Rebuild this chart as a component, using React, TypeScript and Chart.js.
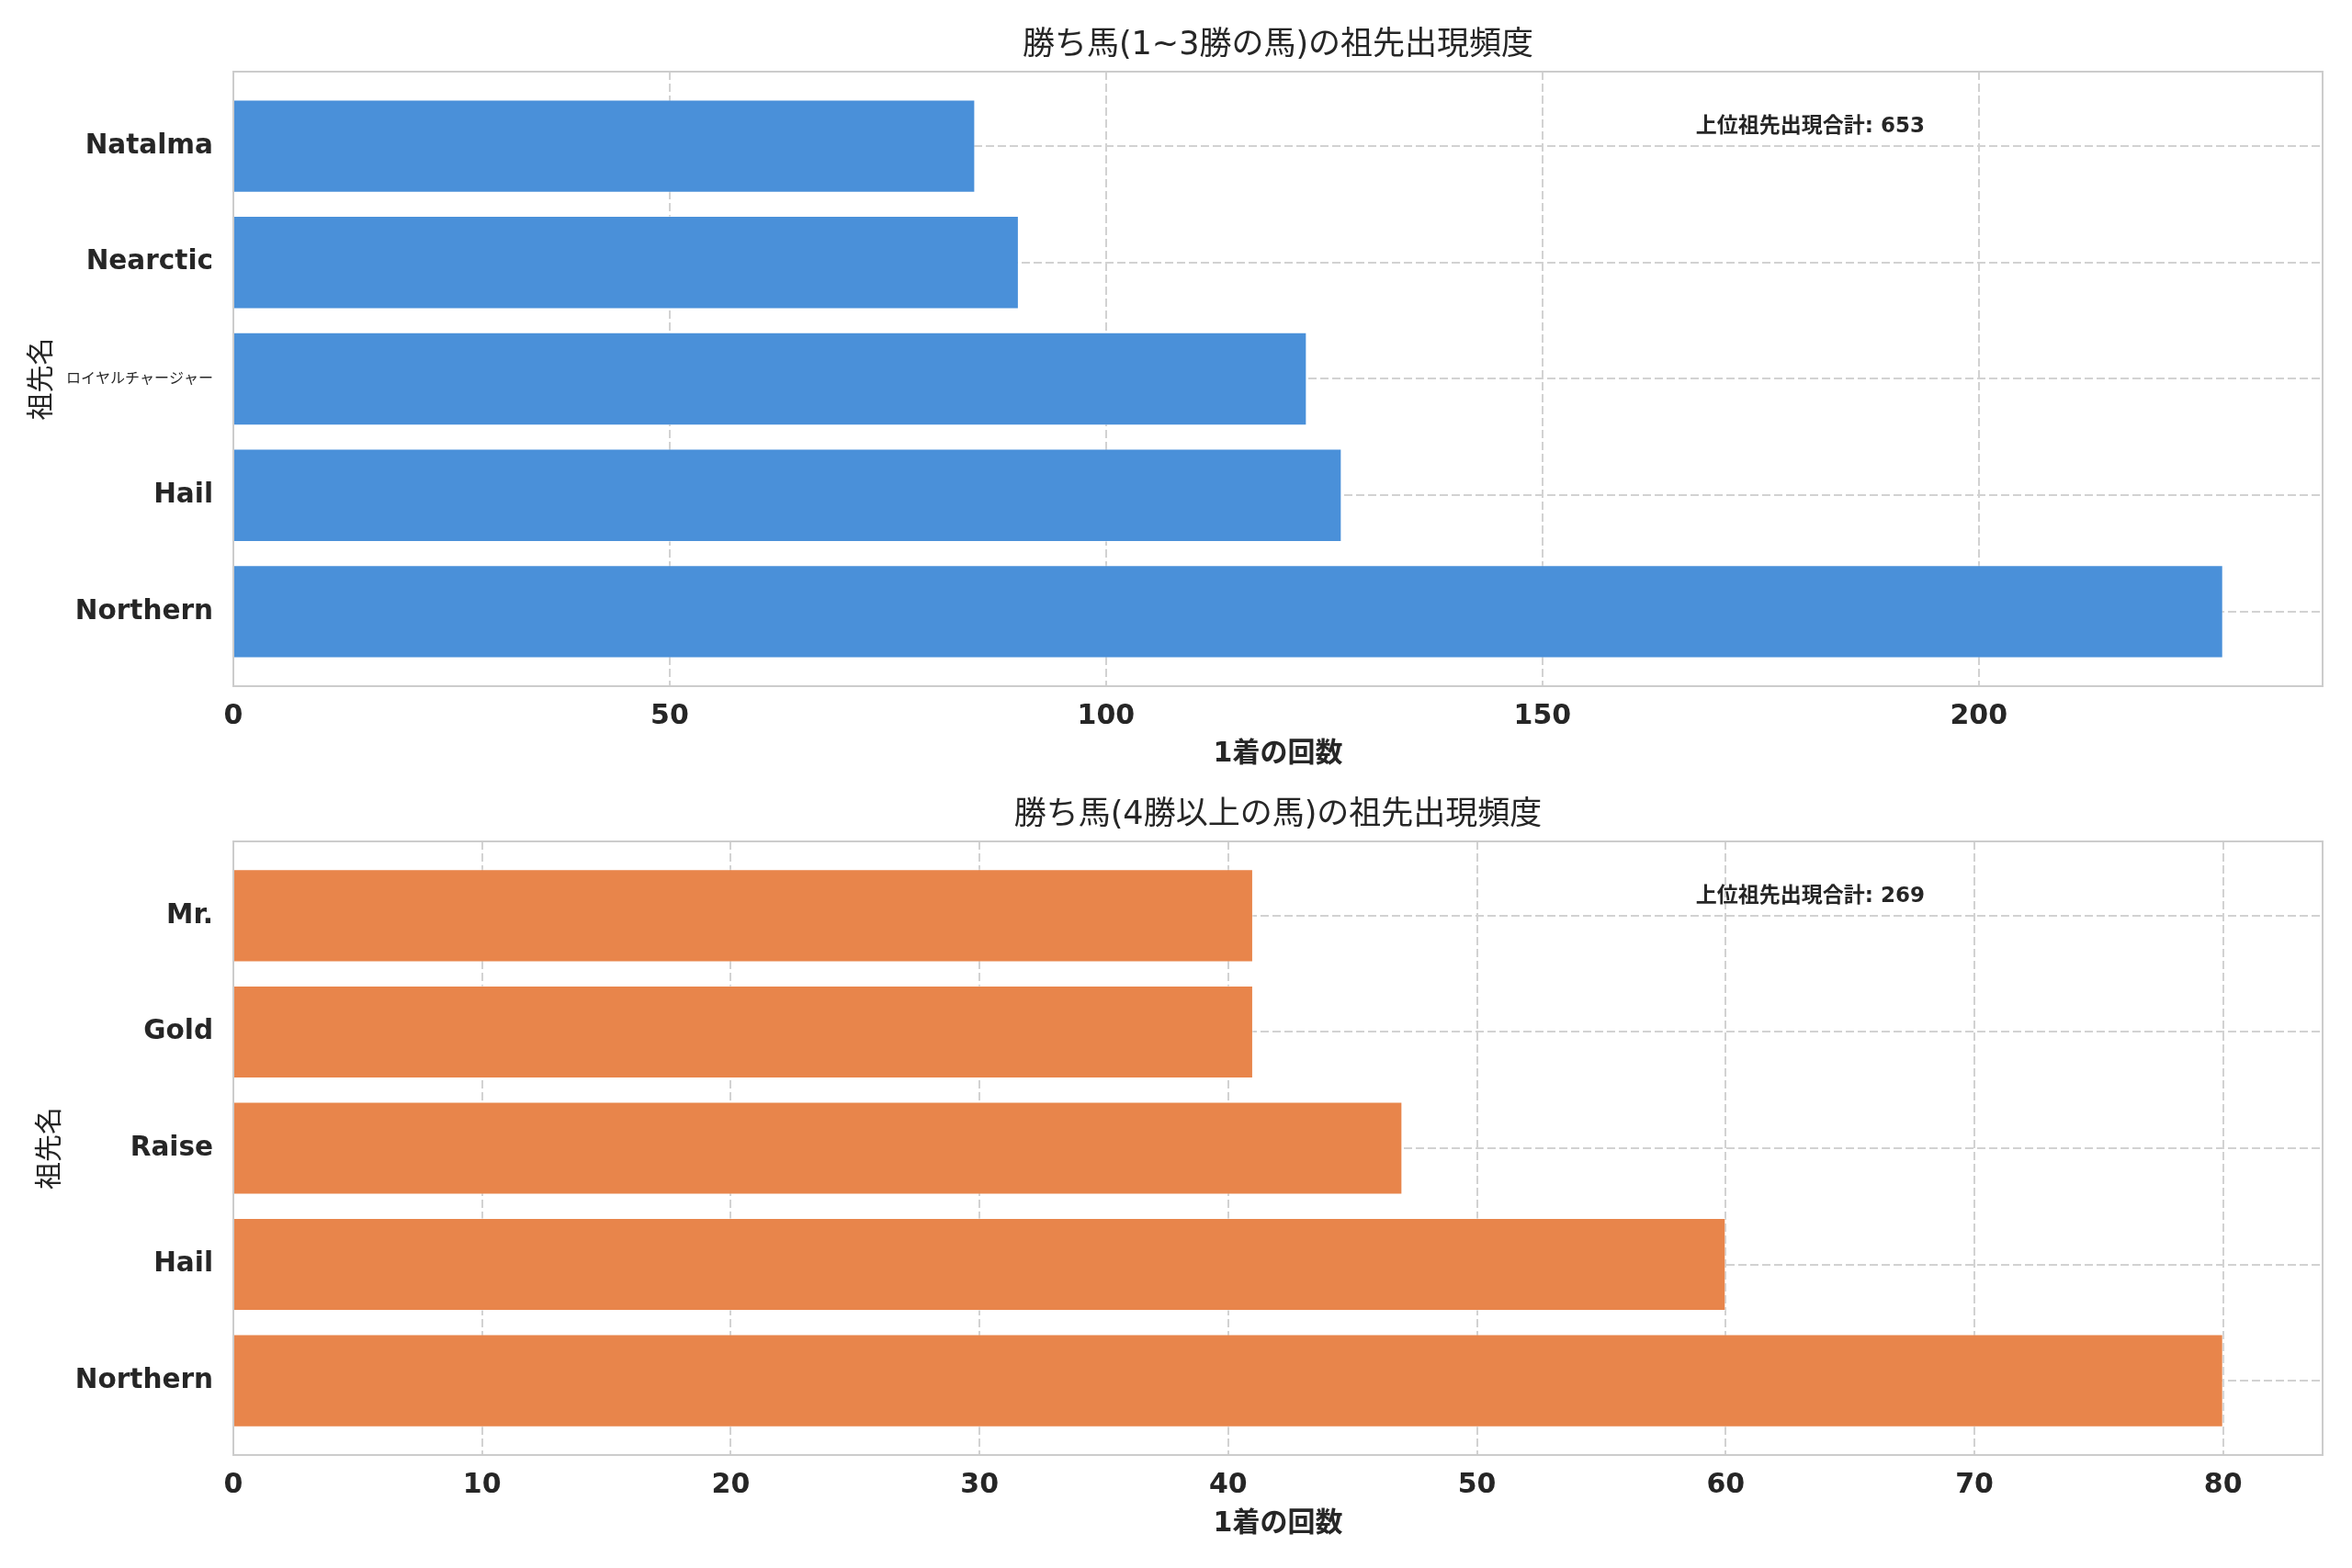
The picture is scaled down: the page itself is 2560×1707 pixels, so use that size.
import { useEffect, useRef } from "react"
import { Chart, registerables } from "chart.js"

Chart.register(...registerables)

const FONT = "'DejaVu Sans', 'Noto Sans CJK JP', sans-serif"
const TEXT = "#262626"
const GRID = "#d2d2d2"

// labels shared by both panels
const xLabel = "1着の回数"
const yLabel = "祖先名"
const totalLabel = "上位祖先出現合計"

// upper panel: 1~3 wins (bottom bar first, like barh)
const topTitle = "勝ち馬(1~3勝の馬)の祖先出現頻度"
const topNames = ["Northern", "Hail", "ロイヤルチャージャー", "Nearctic", "Natalma"]
const topCounts = [228, 127, 123, 90, 85]
const topStep = 50

// lower panel: 4+ wins
const bottomTitle = "勝ち馬(4勝以上の馬)の祖先出現頻度"
const bottomNames = ["Northern", "Hail", "Raise", "Gold", "Mr."]
const bottomCounts = [80, 60, 47, 41, 41]
const bottomStep = 10

type PanelProps = {
  title: string
  names: string[]
  counts: number[]
  step: number
  color: string
  top: number
  height: number
  titlePad: { top: number; bottom: number }
  xAxisHeight: number
  xTitlePad: number
  yTitlePad: number
}

function BarPanel(props: PanelProps) {
  const chartRef = useRef<HTMLCanvasElement>(null)

  useEffect(() => {
    if (!chartRef.current) return
    const { title, names, counts, step, color, titlePad, xAxisHeight, xTitlePad, yTitlePad } = props
    const total = counts.reduce((s, v) => s + v, 0)
    const n = names.length

    const frame = {
      id: "frame",
      afterDraw(chart: any) {
        const { ctx, chartArea: a } = chart
        ctx.save()
        ctx.strokeStyle = "#cccccc"
        ctx.lineWidth = 2
        ctx.strokeRect(a.left, a.top, a.right - a.left, a.bottom - a.top)
        // total note in axes coords (0.70, 0.913)
        ctx.fillStyle = TEXT
        ctx.font = `bold 23px ${FONT}`
        ctx.textAlign = "left"
        ctx.textBaseline = "middle"
        const x = a.left + 0.7 * (a.right - a.left)
        const y = a.bottom - 0.91 * (a.bottom - a.top)
        ctx.fillText(`${totalLabel}: ${total}`, x, y)
        ctx.restore()
      },
    }

    const chart = new Chart(chartRef.current, {
      type: "bar",
      data: {
        datasets: [
          {
            data: counts.map((v, i) => ({ x: v, y: i })),
            backgroundColor: color,
            borderColor: "rgba(255,255,255,0.5)",
            borderWidth: 1,
            barPercentage: 0.8,
            categoryPercentage: 1,
          },
        ],
      },
      options: {
        indexAxis: "y",
        animation: false,
        responsive: true,
        maintainAspectRatio: false,
        layout: { padding: { left: 0, right: 32, top: 0, bottom: 0 } },
        plugins: {
          legend: { display: false },
          tooltip: { enabled: false },
          title: {
            display: true,
            text: title,
            fullSize: false,
            color: TEXT,
            font: { family: FONT, size: 35, weight: "normal" },
            padding: titlePad,
          },
        },
        scales: {
          x: {
            type: "linear",
            min: 0,
            max: Math.max(...counts) * 1.05,
            afterFit: (s: any) => {
              s.height = xAxisHeight
            },
            ticks: {
              stepSize: step,
              includeBounds: false,
              color: TEXT,
              padding: 15,
              font: { family: FONT, size: 30, weight: "bold" },
            },
            grid: { color: GRID, lineWidth: 2, drawTicks: false },
            border: { display: false, dash: [9, 4] },
            title: {
              display: true,
              text: xLabel,
              color: TEXT,
              font: { family: FONT, size: 30, weight: "bold" },
              padding: { top: 0, bottom: xTitlePad },
            },
          },
          y: {
            type: "linear",
            offset: false,
            min: -0.64,
            max: n - 1 + 0.64,
            afterFit: (s: any) => {
              s.width = 254
            },
            afterBuildTicks: (s: any) => {
              s.ticks = names.map((_, i) => ({ value: i }))
            },
            ticks: {
              color: TEXT,
              padding: 22,
              callback: (v: any) => names[v] ?? "",
              font: (ctx: any) =>
                /[^\x00-\x7f]/.test(names[ctx.index] ?? "")
                  ? { family: FONT, size: 16, weight: "normal" }
                  : { family: FONT, size: 29.5, weight: "bold" },
            },
            grid: { color: GRID, lineWidth: 2, drawTicks: false, offset: false },
            border: { display: false, dash: [9, 4] },
            title: {
              display: true,
              text: yLabel,
              color: TEXT,
              font: { family: FONT, size: 30, weight: "normal" },
              padding: { top: yTitlePad, bottom: 0 },
            },
          },
        },
      },
      plugins: [frame],
    } as any)

    return () => {
      chart.destroy()
    }
  }, [])

  return (
    <div style={{ position: "absolute", left: 0, top: props.top, width: 2560, height: props.height }}>
      <canvas ref={chartRef}></canvas>
    </div>
  )
}

export default function App() {
  return (
    <div style={{ position: "absolute", left: 0, top: 0, width: 2560, height: 1707, background: "#fff" }}>
      <BarPanel
        title={topTitle}
        names={topNames}
        counts={topCounts}
        step={topStep}
        color="#4A90D9"
        top={0}
        height={853}
        titlePad={{ top: 29, bottom: 7 }}
        xAxisHeight={106}
        xTitlePad={14}
        yTitlePad={28}
      />
      <BarPanel
        title={bottomTitle}
        names={bottomNames}
        counts={bottomCounts}
        step={bottomStep}
        color="#E8854B"
        top={853}
        height={854}
        titlePad={{ top: 14, bottom: 7 }}
        xAxisHeight={123}
        xTitlePad={30}
        yTitlePad={37}
      />
    </div>
  )
}
